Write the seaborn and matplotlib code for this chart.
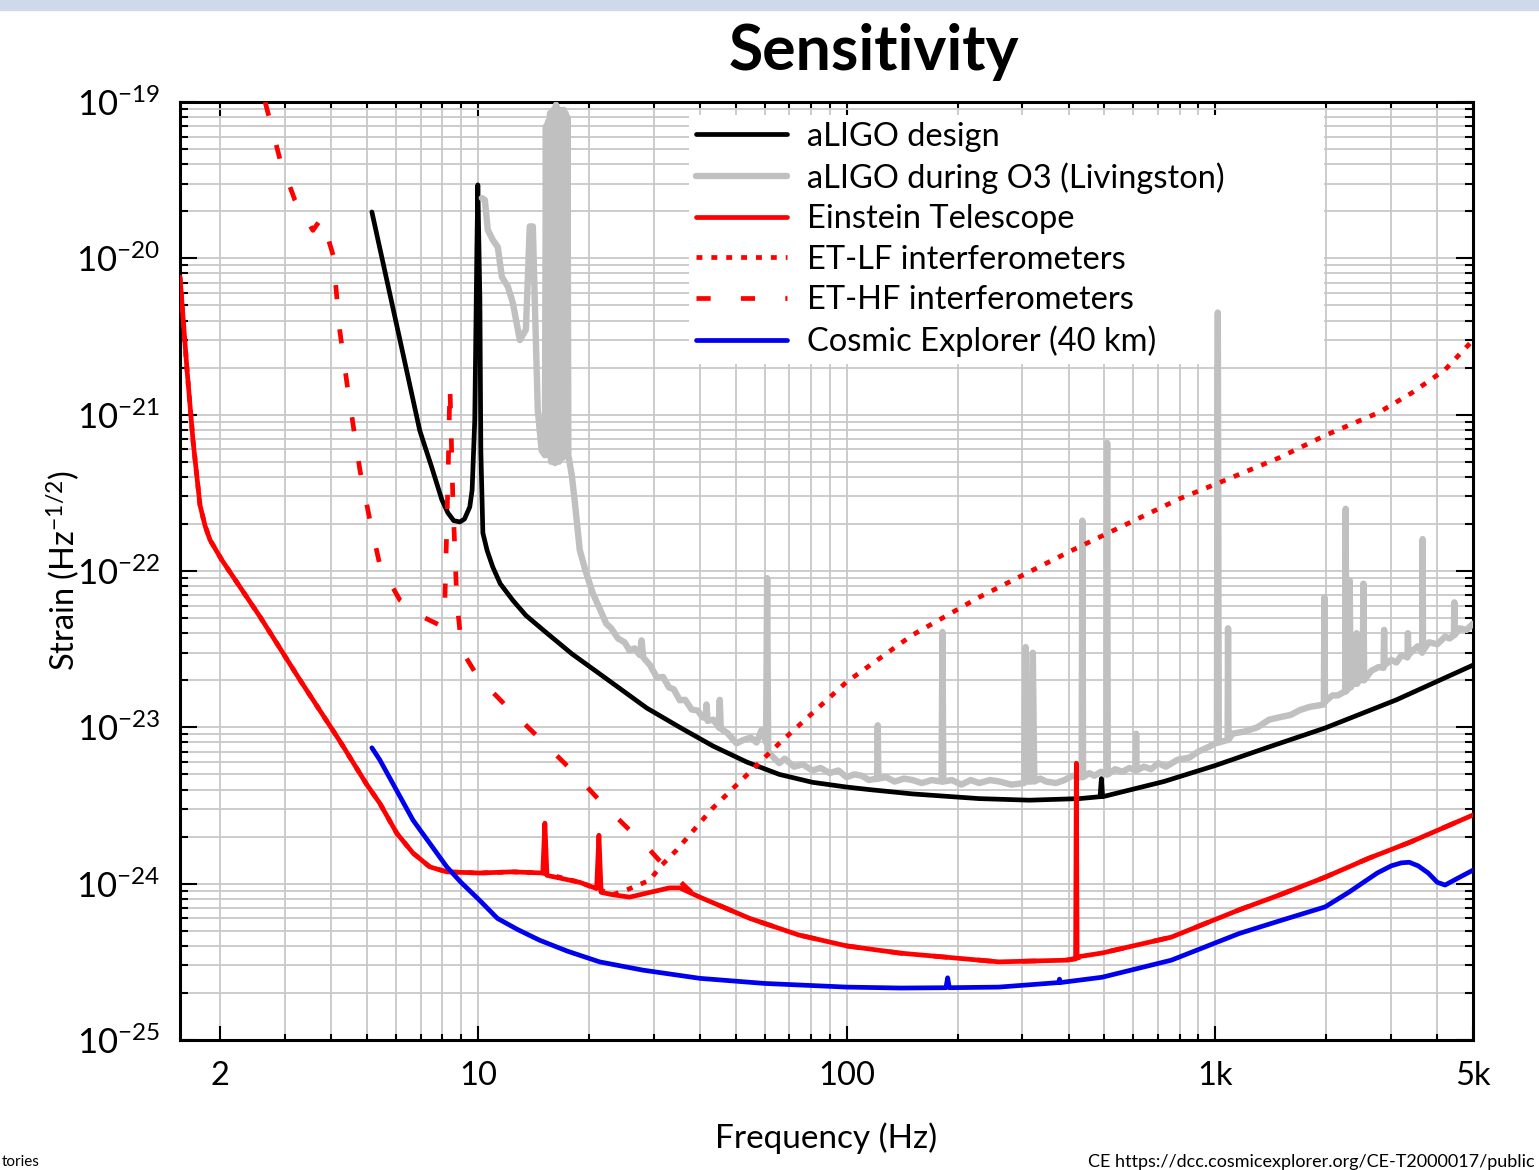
import math
import seaborn as sns
import matplotlib.pyplot as plt
from matplotlib.patches import Rectangle
from matplotlib.ticker import FixedLocator, FixedFormatter, NullFormatter, FuncFormatter

# values: frequency (Hz) / strain (Hz^-1/2)
aligo_f = [5.16, 6.15, 6.96, 7.5, 7.99, 8.3, 8.6, 8.94, 9.2, 9.51, 9.65, 9.81, 9.94, 10.0, 10.13,
           10.19, 10.32, 10.6, 10.98, 11.5, 12.44, 13.5, 15.4, 18.0, 21.0, 28.7, 35.3, 43.4, 53.6,
           65.7, 80.8, 100, 115, 151, 229, 313, 428, 487, 491, 495, 725, 1000, 1400, 1985, 3100,
           5000]
aligo_h = [1.98e-20, 3.0e-21, 7.9e-22, 4.6e-22, 2.85e-22, 2.35e-22, 2.1e-22, 2.06e-22, 2.15e-22,
           2.57e-22, 3.3e-22, 9.2e-22, 1.13e-20, 2.95e-20, 5.4e-21, 5.9e-22, 1.75e-22, 1.35e-22,
           1.06e-22, 8.3e-23, 6.5e-23, 5.2e-23, 4.0e-23, 2.95e-23, 2.27e-23, 1.33e-23, 1.0e-23,
           7.6e-24, 6.0e-24, 5.0e-24, 4.45e-24, 4.15e-24, 4.0e-24, 3.75e-24, 3.5e-24, 3.42e-24,
           3.5e-24, 3.6e-24, 4.7e-24, 3.6e-24, 4.5e-24, 5.7e-24, 7.5e-24, 9.9e-24, 1.5e-23, 2.5e-23]

o3_f = [10.25, 10.45, 10.64, 10.98, 11.33, 11.62, 12.06, 12.44, 13.0, 13.5, 13.83, 14.1, 14.27,
        14.54, 14.9, 15.2,
        15.3, 15.4, 15.5, 15.6, 15.7, 15.8, 15.9, 16.0, 16.1, 16.2, 16.3, 16.4, 16.5, 16.6,
        16.7, 16.8, 16.9, 17.0, 17.1, 17.2, 17.3, 17.4, 17.5, 17.6,
        17.98, 18.3, 18.9, 19.6, 20.5, 21.3, 22.3, 23.0, 24.0, 25.0, 25.8, 26.6, 27.5, 27.8,
        28.1, 29.3, 30.6, 31.8, 33.0, 34.0, 35.3, 36.5, 38.0, 39.5,
        40.7, 41.5, 41.7, 42.0, 43.5, 45.0, 45.3, 45.6, 47.5, 50.3, 52.5, 55.0, 57.0, 58.8,
        60.5, 60.9, 61.3, 63.0, 65.7, 68.0, 72.0, 76.0, 80.8, 85.0, 90.0, 95.0, 100, 105, 110,
        115, 121, 121.5, 122, 128, 135, 143, 151, 160, 170, 181, 182, 183, 193, 205, 217, 229,
        245, 260, 280, 303, 306, 309, 317, 320, 323, 335, 348, 370, 390, 410, 428, 434, 436,
        438, 455, 470, 490, 507, 509, 511, 535, 560, 585, 608, 610, 612, 640, 670, 700, 735,
        790, 850, 900, 960, 1010, 1016, 1022, 1080, 1083, 1086, 1111, 1200, 1300, 1400, 1494,
        1600, 1697, 1800, 1970, 1977, 1984, 2003, 2080, 2150, 2250, 2258, 2266, 2300, 2314,
        2330, 2370, 2410, 2418, 2426, 2470, 2510, 2522, 2534, 2650, 2773, 2860, 2870, 2880,
        3000, 3100, 3200, 3320, 3330, 3340, 3434, 3540, 3640, 3650, 3660, 3800, 4000, 4200,
        4320, 4440, 4450, 4460, 4600, 4800, 5000]
o3_h = [2.43e-20, 2.36e-20, 1.52e-20, 1.31e-20, 1.18e-20, 7.6e-21, 6.6e-21, 5.2e-21, 3.0e-21,
        3.5e-21, 1.6e-20, 1.6e-20, 5.4e-21, 1.07e-21, 5.9e-22, 5.5e-22,
        7.0e-20, 6.0e-22, 7.5e-20, 5.5e-22, 8.5e-20, 5.0e-22, 8.6e-20, 5.2e-22, 9.0e-20, 4.9e-22,
        9.6e-20, 5.5e-22, 9.0e-20, 5.0e-22, 8.9e-20, 5.6e-22, 8.8e-20, 5.3e-22, 8.9e-20, 5.8e-22,
        8.5e-20, 6.0e-22, 8.0e-20, 5.5e-22,
        4.1e-22, 2.85e-22, 1.36e-22, 1.0e-22, 7.2e-23, 5.9e-23, 4.6e-23, 4.3e-23, 3.7e-23, 3.5e-23,
        3.1e-23, 3.2e-23, 2.9e-23, 3.6e-23, 2.8e-23, 2.5e-23, 2.08e-23, 2.1e-23, 1.8e-23, 1.75e-23,
        1.49e-23, 1.5e-23, 1.3e-23, 1.28e-23,
        1.16e-23, 1.15e-23, 1.4e-23, 1.1e-23, 1.12e-23, 1.0e-23, 1.5e-23, 9.8e-24, 9.2e-24,
        7.9e-24, 8.3e-24, 8.6e-24, 8.0e-24, 9.6e-24,
        8.0e-24, 9.0e-23, 7.0e-24, 6.5e-24, 5.9e-24, 6.3e-24, 5.6e-24, 5.8e-24, 5.3e-24, 5.5e-24,
        5.1e-24, 5.3e-24, 4.8e-24, 5.0e-24, 4.9e-24,
        4.6e-24, 4.7e-24, 1.03e-23, 4.7e-24, 4.8e-24, 4.5e-24, 4.7e-24, 4.6e-24, 4.4e-24, 4.6e-24,
        4.5e-24, 4.07e-23, 4.5e-24, 4.6e-24, 4.3e-24, 4.6e-24, 4.4e-24,
        4.6e-24, 4.5e-24, 4.3e-24, 4.4e-24, 3.26e-23, 4.5e-24, 4.5e-24, 3.0e-23, 4.5e-24, 4.7e-24,
        4.5e-24, 4.4e-24, 4.6e-24, 4.9e-24, 4.8e-24, 4.8e-24, 2.1e-22,
        4.8e-24, 5.1e-24, 4.9e-24, 5.2e-24, 5.0e-24, 6.6e-22, 5.0e-24, 5.4e-24, 5.2e-24, 5.5e-24,
        5.3e-24, 9.1e-24, 5.3e-24, 5.6e-24, 5.4e-24, 5.9e-24, 5.6e-24,
        6.2e-24, 6.4e-24, 7.0e-24, 7.5e-24, 8.0e-24, 4.5e-21, 8.0e-24, 8.3e-24, 4.3e-23, 8.3e-24,
        9.1e-24, 9.4e-24, 1.0e-23, 1.12e-23, 1.16e-23,
        1.2e-23, 1.29e-23, 1.35e-23, 1.4e-23, 6.8e-23, 1.45e-23, 1.49e-23, 1.6e-23, 1.6e-23,
        1.7e-23, 2.5e-22, 1.7e-23, 1.8e-23, 8.7e-23,
        1.8e-23, 1.95e-23, 1.9e-23, 4.0e-23, 1.9e-23, 2.1e-23, 2.0e-23, 8.3e-23, 2.0e-23, 2.3e-23,
        2.43e-23, 2.4e-23, 4.2e-23, 2.5e-23,
        2.7e-23, 2.6e-23, 2.9e-23, 2.8e-23, 4.0e-23, 2.9e-23, 3.1e-23, 3.3e-23, 3.0e-23, 1.6e-22,
        3.1e-23, 3.5e-23, 3.4e-23, 3.8e-23,
        3.7e-23, 3.9e-23, 6.3e-23, 3.9e-23, 4.3e-23, 4.2e-23, 4.6e-23]

et_f = [1.557, 1.627, 1.689, 1.764, 1.82, 1.878, 2.02, 2.566, 3.28, 4.22, 5.0, 5.42, 6.03, 6.67,
        7.41, 8.24, 10.1, 12.4, 15.0, 15.2, 15.4, 18.9, 21.0, 21.3, 21.6, 23.2, 25.8, 28.7,
        33.1, 35.3, 40.0, 54.6, 74.1, 100, 139, 259, 394, 418, 420, 422, 493, 760, 1161, 1500,
        1985, 2600, 3390, 5000]
et_h = [7.6e-21, 1.93e-21, 6.8e-22, 2.64e-22, 1.95e-22, 1.58e-22, 1.18e-22, 5.1e-23, 2.04e-23,
        8.2e-24, 4.3e-24, 3.27e-24, 2.1e-24, 1.57e-24, 1.28e-24, 1.19e-24, 1.17e-24, 1.19e-24,
        1.17e-24, 2.44e-24, 1.13e-24, 1.02e-24, 9.3e-25, 2.04e-24, 8.8e-25, 8.5e-25, 8.2e-25,
        8.7e-25, 9.4e-25, 9.4e-25, 8.2e-25, 6.0e-25, 4.7e-25, 4.0e-25, 3.6e-25, 3.16e-25,
        3.24e-25, 3.3e-25, 5.9e-24, 3.4e-25, 3.6e-25, 4.55e-25, 6.8e-25, 8.5e-25, 1.1e-24,
        1.45e-24, 1.85e-24, 2.75e-24]

lf_f = [1.557, 1.627, 1.689, 1.764, 1.82, 1.878, 2.02, 2.566, 3.28, 4.22, 5.0, 5.42, 6.03, 6.67,
        7.41, 8.24, 10.1, 12.4, 15.0, 18.9, 21.0, 23.2, 25.3, 29.2, 31.5, 34.6, 43.1, 65.7, 100,
        151, 229, 348, 410, 800, 1004, 1490, 1995, 2770, 3415, 4200, 5000]
lf_h = [7.6e-21, 1.93e-21, 6.8e-22, 2.64e-22, 1.95e-22, 1.58e-22, 1.18e-22, 5.1e-23, 2.04e-23,
        8.2e-24, 4.3e-24, 3.27e-24, 2.1e-24, 1.57e-24, 1.28e-24, 1.19e-24, 1.17e-24, 1.19e-24,
        1.17e-24, 1.02e-24, 9.3e-25, 8.5e-25, 9.1e-25, 1.05e-24, 1.31e-24, 1.64e-24, 3.0e-24,
        7.9e-24, 1.95e-23, 3.9e-23, 6.8e-23, 1.12e-22, 1.36e-22, 2.9e-22, 3.6e-22, 5.3e-22,
        7.4e-22, 1.03e-21, 1.38e-21, 1.94e-21, 3.0e-21]

hf_f = [2.65, 2.91, 3.19, 3.57, 3.70, 3.78, 4.05, 4.22, 4.44, 4.79, 5.10, 5.42, 6.15, 6.96,
        7.89, 8.14, 8.3, 8.4, 8.56, 8.77, 9.05, 10.0, 12.2, 14.7, 17.7, 21.4, 25.8, 28.9, 33.0,
        38.0, 40.0, 54.6, 74.1, 100, 139, 259, 394, 493, 760, 1161, 1500, 1985, 2600, 3390, 5000]
hf_h = [1.0e-19, 4.25e-20, 2.36e-20, 1.51e-20, 1.7e-20, 1.81e-20, 1.05e-20, 3.5e-21, 1.45e-21,
        4.4e-22, 2.1e-22, 1.1e-22, 6.5e-23, 5.2e-23, 4.5e-23, 6.5e-23, 3.8e-22, 1.55e-21,
        2.8e-22, 6.5e-23, 3.1e-23, 2.1e-23, 1.3e-23, 8.5e-24, 5.5e-24, 3.4e-24, 2.2e-24,
        1.7e-24, 1.2e-24, 8.8e-25, 8.2e-25, 6.0e-25, 4.7e-25, 4.0e-25, 3.6e-25, 3.16e-25,
        3.24e-25, 3.6e-25, 4.55e-25, 6.8e-25, 8.5e-25, 1.1e-24, 1.45e-24, 1.85e-24, 2.75e-24]

ce_f = [5.16, 5.42, 6.67, 8.24, 9.0, 10.1, 11.3, 12.8, 14.7, 17.5, 21.4, 28.0, 40, 60, 100,
        140, 186, 188, 190, 259, 376, 378, 380, 493, 760, 1161, 1500, 1985, 2300, 2750, 3000,
        3200, 3360, 3550, 3780, 4000, 4200, 4600, 5000]
ce_h = [7.4e-24, 6.2e-24, 2.55e-24, 1.28e-24, 1.02e-24, 7.85e-25, 6.0e-25, 5.1e-25, 4.35e-25,
        3.7e-25, 3.16e-25, 2.8e-25, 2.48e-25, 2.3e-25, 2.18e-25, 2.15e-25, 2.16e-25, 2.5e-25,
        2.16e-25, 2.18e-25, 2.33e-25, 2.45e-25, 2.33e-25, 2.52e-25, 3.24e-25, 4.8e-25, 5.8e-25,
        7.1e-25, 8.8e-25, 1.17e-24, 1.3e-24, 1.36e-24, 1.37e-24, 1.3e-24, 1.17e-24, 1.02e-24,
        9.8e-25, 1.1e-24, 1.22e-24]

x_major = [2, 10, 100, 1000, 5000]
x_major_labels = ["2", "10", "100", "1k", "5k"]
x_minor = [3, 4, 5, 6, 7, 8, 9, 20, 30, 40, 50, 60, 70, 80, 90,
           200, 300, 400, 500, 600, 700, 800, 900, 2000, 3000, 4000]
y_decades = [-25, -24, -23, -22, -21, -20, -19]

labels = ["aLIGO design", "aLIGO during O3 (Livingston)", "Einstein Telescope",
          "ET-LF interferometers", "ET-HF interferometers", "Cosmic Explorer (40 km)"]

sns.set_theme(style="ticks")
plt.rcParams["font.family"] = ["Lato", "DejaVu Sans"]
plt.rcParams["mathtext.fontset"] = "custom"
plt.rcParams["mathtext.rm"] = "Lato"
plt.rcParams["mathtext.it"] = "Lato:italic"
plt.rcParams["mathtext.bf"] = "Lato:bold"
for key in ["text.color", "axes.labelcolor", "xtick.color", "ytick.color"]:
    plt.rcParams[key] = "black"

fig = plt.figure(figsize=(15.39, 11.70), dpi=100)
fig.patches.append(Rectangle((0, 1 - 10 / 1170), 1, 10 / 1170, transform=fig.transFigure,
                             color="#cfd9ec", zorder=0))
ax = fig.add_axes([0.11696, 0.11111, 0.84016, 0.80171])
ax.set_xscale("log")
ax.set_yscale("log")

lw = 3.4
series = [
    (aligo_f, aligo_h, "black", "-", lw, 2),
    (o3_f, o3_h, "#c0c0c0", "-", 4.6, 3),
    (et_f, et_h, "red", "-", lw, 5),
    (lf_f, lf_h, "red", (0, (1.25, 1.9)), lw, 4),
    (hf_f, hf_h, "red", (0, (3.0, 6.4)), lw, 4),
    (ce_f, ce_h, "#0000ee", "-", lw, 6),
]
handles = []
for (f, h, c, ls, w, z), lab in zip(series, labels):
    sns.lineplot(x=f, y=h, ax=ax, color=c, lw=w, linestyle=ls, zorder=z,
                 estimator=None, sort=False, legend=False)
    line = ax.get_lines()[-1]
    line.set_label(lab)
    handles.append(line)

ax.set_xlim(1.557, 5000)
ax.set_ylim(1e-25, 1e-19)

ax.xaxis.set_major_locator(FixedLocator(x_major))
ax.xaxis.set_major_formatter(FixedFormatter(x_major_labels))
ax.xaxis.set_minor_locator(FixedLocator(x_minor))
ax.xaxis.set_minor_formatter(NullFormatter())

ax.yaxis.set_major_locator(FixedLocator([10.0 ** d for d in y_decades]))
ax.yaxis.set_major_formatter(FuncFormatter(
    lambda v, pos: r"$\mathregular{10^{%d}}$" % round(math.log10(v))))
ax.yaxis.set_minor_locator(FixedLocator([k * 10.0 ** d for d in y_decades[:-1] for k in range(2, 10)]))
ax.yaxis.set_minor_formatter(NullFormatter())

ax.set_axisbelow(True)
ax.grid(which="both", color="#c8c8c8", lw=1.3)
for s in ax.spines.values():
    s.set_linewidth(2.2)
    s.set_color("black")
ax.tick_params(which="both", direction="in", top=True, right=True, width=1.5, color="black")
ax.tick_params(axis="x", which="major", length=10, labelsize=23.5, pad=15)
ax.tick_params(axis="x", which="minor", length=4.5)
ax.tick_params(axis="y", which="major", length=12, labelsize=25, pad=14)
ax.tick_params(axis="y", which="minor", length=5.5)
ax.set_xlabel("")
ax.set_ylabel("")

leg = ax.legend(handles, labels, loc="upper left", bbox_to_anchor=(0.394, 0.986, 0.491, 0),
                mode="expand", fontsize=23.5, frameon=True, fancybox=False, framealpha=1,
                edgecolor="none", facecolor="white", handlelength=2.8, handletextpad=0.6,
                labelspacing=0.32, borderpad=0.2, borderaxespad=0)
leg.set_zorder(1.5)

fig.text(0.568, 0.9556, "Sensitivity", ha="center", va="center", fontsize=45, fontweight="bold")
fig.text(0.537, 0.0274, "Frequency (Hz)", ha="center", va="center", fontsize=24)
fig.text(0.041, 0.512, r"Strain (Hz$^{\mathregular{-1/2}}$)", ha="center", va="center",
         rotation=90, fontsize=23.5)
fig.text(0.001, 0.001, "tories", ha="left", va="bottom", fontsize=11)
fig.text(1535 / 1539, 1 - 1162 / 1170, "CE https://dcc.cosmicexplorer.org/CE-T2000017/public",
         ha="right", va="center", fontsize=13)

fig.savefig("out.png", dpi=100)
